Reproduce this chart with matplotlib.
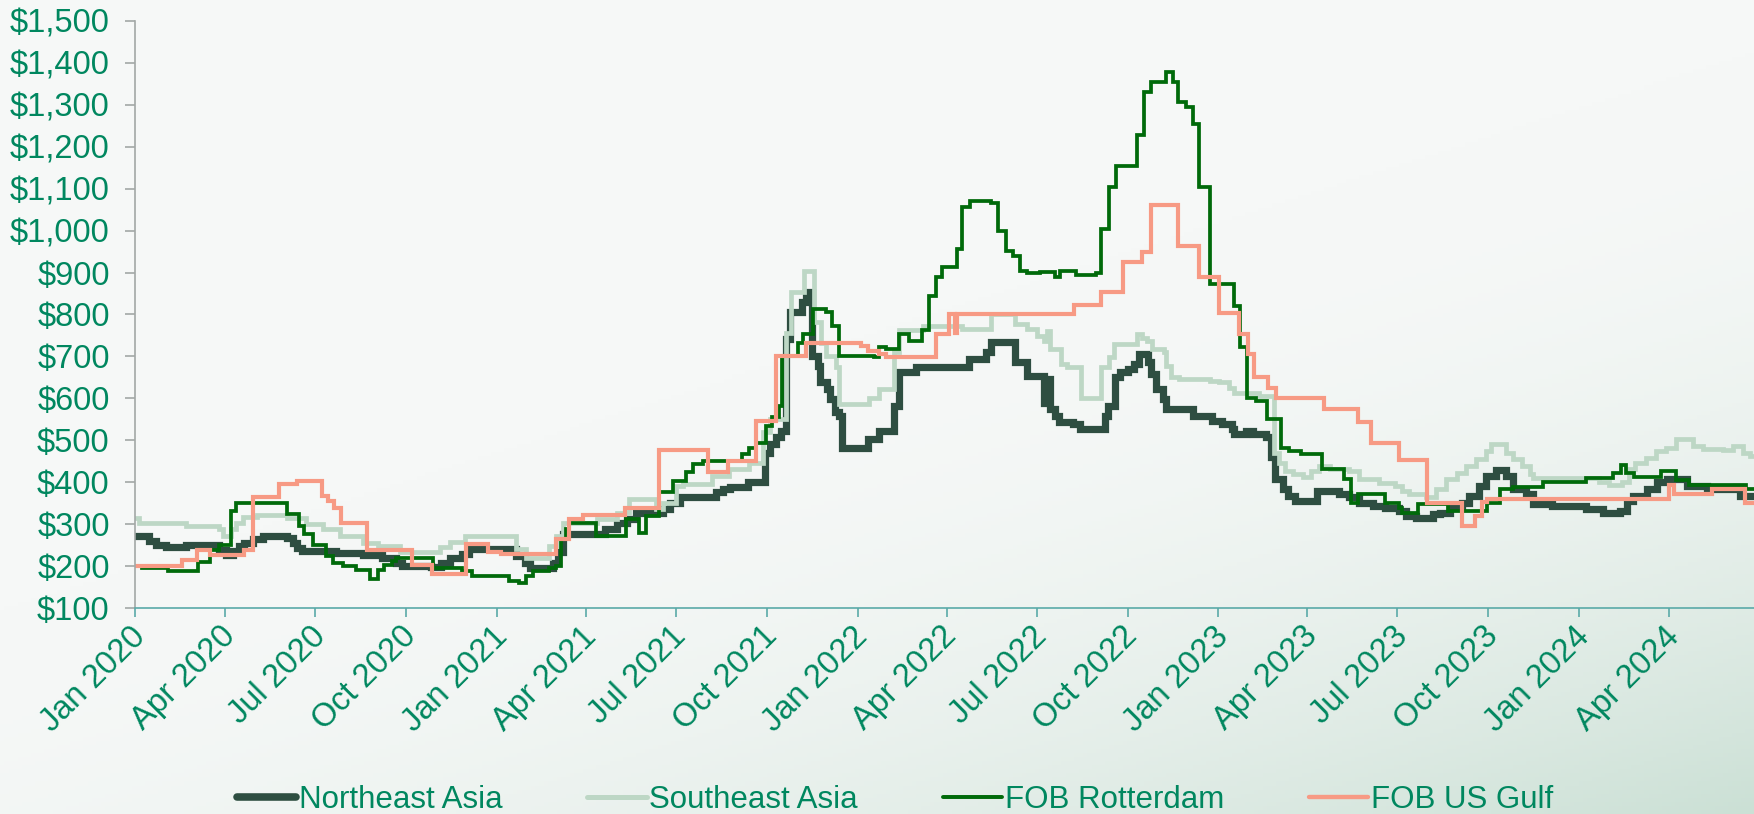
import matplotlib
matplotlib.use('Agg')
import matplotlib.pyplot as plt
import matplotlib.dates as mdates
import matplotlib.ticker as mticker
from matplotlib.transforms import ScaledTranslation
import numpy as np
import pandas as pd

plt.rcParams['font.family'] = ['Liberation Sans', 'DejaVu Sans']

# ---------------- data (USD/t, weekly step series) ----------------
ne_dates = ["2020-01-01","2020-01-15","2020-01-22","2020-02-01","2020-02-21","2020-03-26","2020-04-02","2020-04-09",
            "2020-04-15","2020-04-20","2020-04-29","2020-05-09","2020-06-02","2020-06-08","2020-06-13","2020-06-18",
            "2020-07-22","2020-08-18","2020-09-07","2020-09-21","2020-09-27","2020-10-26","2020-11-05","2020-11-14",
            "2020-11-27","2020-12-04","2021-01-20","2021-01-29","2021-02-03","2021-02-27","2021-03-04","2021-03-09",
            "2021-04-20","2021-05-02","2021-05-12","2021-05-22","2021-06-18","2021-06-25","2021-07-05","2021-08-11",
            "2021-08-18","2021-08-25","2021-09-12","2021-09-29","2021-10-04","2021-10-10","2021-10-15","2021-10-20",
            "2021-10-24","2021-11-06","2021-11-10","2021-11-16","2021-11-22","2021-11-24","2021-12-01","2021-12-04",
            "2021-12-09","2021-12-13","2021-12-16","2022-01-11","2022-01-23","2022-02-07","2022-02-12","2022-03-01",
            "2022-04-24","2022-05-11","2022-05-16","2022-06-09","2022-06-21","2022-07-08","2022-07-12","2022-07-15",
            "2022-07-20","2022-07-24","2022-08-07","2022-08-14","2022-09-08","2022-09-11","2022-09-18","2022-09-23",
            "2022-10-01","2022-10-08","2022-10-13","2022-10-22","2022-10-25","2022-10-30","2022-11-06","2022-11-09",
            "2022-12-06","2022-12-26","2023-01-05","2023-01-15","2023-01-17","2023-01-29","2023-02-05","2023-02-18",
            "2023-02-23","2023-02-27","2023-03-07","2023-03-12","2023-03-20","2023-04-11","2023-05-03","2023-05-13",
            "2023-05-23","2023-06-06","2023-06-19","2023-07-03","2023-07-10","2023-07-20","2023-08-06","2023-08-13",
            "2023-08-23","2023-09-05","2023-09-12","2023-09-22","2023-09-29","2023-10-09","2023-10-19","2023-10-26",
            "2023-11-08","2023-11-15","2023-12-05","2024-01-08","2024-01-25","2024-02-11","2024-02-18","2024-02-25",
            "2024-03-10","2024-03-20","2024-03-30","2024-04-19","2024-05-09","2024-06-08","2024-06-12","2024-06-28"]
ne_vals = [272,260,252,246,250,240,228,236,
           248,256,266,272,268,256,244,236,
           232,228,220,208,200,198,208,221,
           229,241,225,209,197,209,233,277,
           288,304,312,328,336,352,364,376,
           384,390,400,471,491,507,523,742,
           805,829,853,702,678,638,622,598,
           567,559,483,503,523,583,662,674,
           694,710,734,686,654,590,646,575,
           559,543,539,527,559,583,650,662,
           670,682,706,686,658,622,598,575,
           559,547,539,527,515,523,515,507,
           460,408,384,368,356,380,372,364,
           352,344,340,332,320,316,324,328,
           340,352,368,392,415,430,415,384,
           372,348,344,336,328,332,356,368,
           384,400,407,392,384,388,368,368]

se_dates = ["2020-01-01","2020-01-05","2020-02-21","2020-03-26","2020-03-30","2020-04-07","2020-04-12","2020-04-19",
            "2020-05-03","2020-06-02","2020-06-22","2020-07-09","2020-07-26","2020-08-18","2020-09-02","2020-09-25",
            "2020-11-04","2020-11-14","2020-11-30","2021-01-20","2021-01-30","2021-02-23","2021-03-02","2021-03-09",
            "2021-04-12","2021-05-02","2021-05-15","2021-06-11","2021-06-18","2021-07-01","2021-07-08","2021-08-07",
            "2021-08-24","2021-09-13","2021-09-27","2021-10-04","2021-10-20","2021-10-25","2021-11-08","2021-11-18",
            "2021-11-25","2021-11-30","2021-12-10","2021-12-13","2022-01-12","2022-01-23","2022-02-07","2022-02-12",
            "2022-03-08","2022-04-17","2022-05-16","2022-06-09","2022-06-21","2022-07-01","2022-07-08","2022-07-12",
            "2022-07-15","2022-07-26","2022-08-01","2022-08-15","2022-09-04","2022-09-12","2022-09-17","2022-10-11",
            "2022-10-16","2022-10-21","2022-10-26","2022-11-07","2022-11-09","2022-11-14","2022-11-22","2022-12-23",
            "2023-01-02","2023-01-12","2023-01-17","2023-02-11","2023-02-26","2023-03-03","2023-03-09","2023-03-17",
            "2023-03-28","2023-04-05","2023-04-13","2023-04-24","2023-05-13","2023-05-23","2023-06-12","2023-06-29",
            "2023-07-06","2023-07-13","2023-07-30","2023-08-09","2023-08-19","2023-08-30","2023-09-09","2023-09-19",
            "2023-09-29","2023-10-04","2023-10-19","2023-10-26","2023-11-04","2023-11-12","2023-11-15","2024-01-21",
            "2024-01-31","2024-02-13","2024-02-20","2024-02-27","2024-03-09","2024-03-19","2024-03-29","2024-04-08",
            "2024-04-25","2024-05-05","2024-05-26","2024-06-05","2024-06-15","2024-06-22","2024-06-28"]
se_vals = [314,304,296,288,272,290,304,318,
           322,316,302,288,272,256,248,234,
           245,257,273,241,221,249,273,304,
           312,328,360,336,352,392,396,416,
           432,447,519,551,757,853,904,781,
           733,702,674,586,602,622,710,762,
           773,765,801,777,765,749,738,760,
           718,682,674,602,674,698,730,753,
           745,738,718,710,678,650,646,642,
           638,626,614,606,471,447,427,420,
           412,427,439,431,427,407,398,392,
           380,372,364,384,407,423,439,455,
           475,491,471,455,439,419,411,400,
           393,400,431,447,459,475,483,503,
           487,479,477,487,471,463,463]

rt_dates = ["2020-01-08","2020-02-03","2020-03-04","2020-03-16","2020-03-26","2020-04-07","2020-04-12","2020-06-02",
            "2020-06-15","2020-06-20","2020-06-29","2020-07-12","2020-07-19","2020-07-29","2020-08-11","2020-08-25",
            "2020-09-02","2020-09-09","2020-09-17","2020-09-21","2020-10-28","2020-11-27","2020-12-07","2021-01-13",
            "2021-01-23","2021-01-30","2021-02-06","2021-02-23","2021-03-02","2021-03-07","2021-03-12","2021-03-15",
            "2021-04-11","2021-05-11","2021-05-25","2021-06-01","2021-06-14","2021-06-28","2021-07-11","2021-07-18",
            "2021-07-28","2021-09-06","2021-09-13","2021-09-20","2021-09-30","2021-10-06","2021-10-13","2021-10-16",
            "2021-11-02","2021-11-07","2021-11-17","2021-11-30","2021-12-06","2021-12-13","2022-01-17","2022-01-23",
            "2022-01-30","2022-02-12","2022-02-22","2022-03-07","2022-03-14","2022-03-21","2022-03-27","2022-04-11",
            "2022-04-17","2022-04-25","2022-05-16","2022-05-23","2022-05-31","2022-06-07","2022-06-14","2022-06-21",
            "2022-07-04","2022-07-20","2022-07-25","2022-08-10","2022-08-30","2022-09-04","2022-09-12","2022-09-19",
            "2022-10-11","2022-10-18","2022-10-25","2022-11-09","2022-11-16","2022-11-21","2022-11-29","2022-12-06",
            "2022-12-12","2022-12-23","2023-01-17","2023-01-23","2023-01-30","2023-02-08","2023-02-19","2023-03-05",
            "2023-03-13","2023-03-26","2023-04-16","2023-05-08","2023-05-15","2023-05-22","2023-06-19","2023-07-03",
            "2023-07-06","2023-07-22","2023-08-21","2023-09-30","2023-10-13","2023-10-26","2023-11-25","2024-01-08",
            "2024-02-04","2024-02-12","2024-02-17","2024-02-26","2024-03-24","2024-04-08","2024-04-21","2024-06-18",
            "2024-06-28"]
rt_vals = [196,190,210,240,250,332,352,324,
           296,276,252,224,208,200,192,170,
           192,204,212,220,196,189,177,165,
           161,177,189,197,201,265,288,304,
           273,312,280,320,376,404,424,443,
           451,467,483,495,535,555,582,702,
           733,753,813,805,773,702,698,722,
           718,753,737,762,845,889,912,956,
           1056,1071,1065,1000,952,940,904,899,
           902,889,904,893,900,1004,1103,1153,
           1228,1330,1354,1378,1354,1306,1294,1254,
           1103,873,821,722,602,594,551,483,
           475,467,432,407,352,372,352,340,
           328,348,332,350,384,388,400,411,
           423,441,423,414,427,405,393,384,
           384]

us_dates = ["2020-01-01","2020-02-17","2020-03-03","2020-03-16","2020-04-20","2020-04-29","2020-05-25","2020-06-13",
            "2020-07-08","2020-07-14","2020-07-20","2020-07-27","2020-08-22","2020-10-07","2020-10-27","2020-12-01",
            "2020-12-23","2021-01-05","2021-03-02","2021-03-15","2021-03-29","2021-05-10","2021-06-14","2021-08-02",
            "2021-08-23","2021-09-20","2021-10-10","2021-11-10","2022-01-04","2022-01-11","2022-01-23","2022-01-30",
            "2022-03-21","2022-04-03","2022-04-09","2022-04-11","2022-08-08","2022-09-04","2022-09-26","2022-10-16",
            "2022-10-25","2022-11-21","2022-12-12","2023-01-02","2023-01-22","2023-01-31","2023-02-06","2023-02-20",
            "2023-02-28","2023-04-18","2023-05-22","2023-06-04","2023-07-03","2023-07-31","2023-09-04","2023-09-18",
            "2023-09-25","2023-09-30","2024-04-01","2024-04-06","2024-05-14","2024-06-17","2024-06-28"]
us_vals = [200,216,238,228,240,364,396,404,
           368,356,340,304,238,202,182,253,
           233,229,265,312,322,340,478,424,
           451,547,702,733,725,713,706,698,
           753,801,755,801,823,854,924,948,
           1060,964,889,803,753,706,652,626,
           602,575,544,495,454,352,296,320,
           353,361,393,372,384,352,352]

series_names = ["Northeast Asia", "Southeast Asia", "FOB Rotterdam", "FOB US Gulf"]
series_colors = ["#2E4E41", "#BDD7C5", "#006A0A", "#F79A84"]
series_widths = [5.2, 3.4, 2.7, 3.0]

y_ticks = list(range(100, 1600, 100))
x_start, x_end = "2020-01-01", "2024-06-26"

TEXT = "#00875F"

# ---------------- figure ----------------
fig = plt.figure(figsize=(17.54, 8.14), dpi=100)

# subtle background gradient (light grey -> pale green at bottom right)
h, w = 200, 400
yy, xx = np.mgrid[0:1:h * 1j, 0:1:w * 1j]
wgt = np.clip((0.55 * xx + 0.8 * yy - 0.6) / 0.75, 0, 1) ** 2.0
base = np.array([246, 248, 247]) / 255.0
tint = np.array([203, 224, 213]) / 255.0
img = base[None, None, :] * (1 - wgt[..., None]) + tint[None, None, :] * wgt[..., None]
bg = fig.add_axes([0, 0, 1, 1], zorder=-10)
bg.imshow(img, aspect='auto', extent=[0, 1, 0, 1], origin='upper')
bg.axis('off')

ax = fig.add_axes([0.0772, 0.2527, 0.9228, 0.7219])
ax.set_facecolor('none')

all_dates = [ne_dates, se_dates, rt_dates, us_dates]
all_vals = [ne_vals, se_vals, rt_vals, us_vals]
for d, v, name, c, lw in zip(all_dates, all_vals, series_names, series_colors, series_widths):
    ax.step(pd.to_datetime(d), v, where='post', color=c, lw=lw, label=name,
            solid_joinstyle='miter')

ax.set_ylim(100, 1500)
ax.set_yticks(y_ticks)
ax.yaxis.set_major_formatter(mticker.FuncFormatter(lambda v, p: "${:,.0f}".format(v)))
ax.set_xlim(pd.Timestamp(x_start), pd.Timestamp(x_end))
ax.xaxis.set_major_locator(mdates.MonthLocator(bymonth=[1, 4, 7, 10]))
ax.xaxis.set_major_formatter(mdates.DateFormatter('%b %Y'))

for s in ['top', 'right']:
    ax.spines[s].set_visible(False)
ax.spines['left'].set_color('#A3A8A6')
ax.spines['left'].set_linewidth(1.2)
ax.spines['bottom'].set_color('#5AAAA8')
ax.spines['bottom'].set_linewidth(1.2)

ax.tick_params(axis='y', colors='#A3A8A6', labelcolor=TEXT, labelsize=23.5,
               length=7.5, width=1.2, pad=11)
ax.tick_params(axis='x', colors='#5AAAA8', labelcolor=TEXT, labelsize=23.5,
               length=6.5, width=1.2, pad=11)

offset = ScaledTranslation(-4 / 72, 8.5 / 72, fig.dpi_scale_trans)
for lab in ax.get_xticklabels():
    lab.set_rotation(45)
    lab.set_ha('right')
    lab.set_va('top')
    lab.set_rotation_mode('anchor')
    lab.set_transform(lab.get_transform() + offset)

leg_handles = []
for name, c, lw in zip(series_names, series_colors, series_widths):
    leg_handles.append(plt.Line2D([0], [0], color=c, lw=lw * 1.05, solid_capstyle='round'))
fig.legend(leg_handles, series_names, loc='center', bbox_to_anchor=(895 / 1754, 1 - 800 / 814),
           ncol=4, frameon=False, fontsize=22.5, labelcolor=TEXT, handlelength=1.9,
           handletextpad=0.08, columnspacing=2.72, borderaxespad=0)

fig.savefig('out.png', dpi=100)
